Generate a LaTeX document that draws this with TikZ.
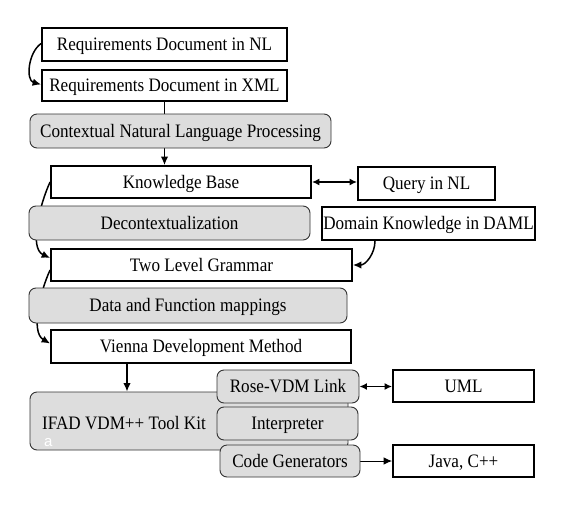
\documentclass[tikz,border=0pt]{standalone}
\usepackage{fontspec}
\setmainfont[FakeStretch=0.9]{Liberation Serif}
\newfontfamily\markfont{Liberation Sans}
\usetikzlibrary{arrows.meta}
\pgfdeclarelayer{paper}
\pgfdeclarelayer{wires}
\pgfsetlayers{paper,wires,main}
\definecolor{boxgray}{RGB}{221,221,221}
\begin{document}
\begin{tikzpicture}[x=1pt,y=-1pt,
  every node/.style={font=\fontsize{19}{22}\selectfont, inner sep=0pt, text height=12.6pt, text depth=0pt},
  wbox/.style={rectangle, draw=black, line width=1.8pt, fill=white},
  gbox/.style={rectangle, draw=black!80, line width=0.9pt, fill=boxgray, rounded corners=7pt},
  wire/.style={line width=1.5pt, black},
  tip/.style={-{Latex[length=8.5pt,width=7.5pt]}},
  twotip/.style={{Latex[length=7.5pt,width=7pt]}-{Latex[length=7.5pt,width=7pt]}}
]
\begin{pgfonlayer}{paper}
  \fill[white] (0,0) rectangle (561,508);
\end{pgfonlayer}
\useasboundingbox (0,0) rectangle (561,508);

% nodes
\node[wbox, minimum width=245pt, minimum height=33pt] (nl) at (164.5,44.5) {Requirements Document in NL};
\node[wbox, minimum width=245pt, minimum height=31pt] (xml) at (164.5,85.5) {Requirements Document in XML};
\node[gbox, minimum width=301pt, minimum height=34pt] (cnlp) at (180.5,131) {Contextual Natural Language Processing};
\node[wbox, minimum width=260pt, minimum height=32pt] (kb) at (181,182) {Knowledge Base};
\node[wbox, minimum width=137pt, minimum height=33pt] (query) at (426.5,183.5) {Query in NL};
\node[gbox, minimum width=281pt, minimum height=34pt] (decont) at (169.5,223) {Decontextualization};
\node[wbox, minimum width=213pt, minimum height=33pt] (domain) at (428.5,223.5) {Domain Knowledge in DAML};
\node[wbox, minimum width=301pt, minimum height=32pt] (tlg) at (201.5,265) {Two Level Grammar};
\node[gbox, minimum width=318pt, minimum height=35pt] (data) at (188,305.5) {Data and Function mappings};
\node[wbox, minimum width=300pt, minimum height=33pt] (vdm) at (201,346.5) {Vienna Development Method};
\node[gbox, minimum width=318pt, minimum height=58pt] (ifad) at (189,421) {};
\node[anchor=base west] (ifadtxt) at (42,429) {IFAD VDM++ Tool Kit};
\node[anchor=base west, text=white, text height=7.5pt, font=\markfont\fontsize{15}{17}\selectfont] (mark) at (44,446) {a};
\node[gbox, minimum width=142pt, minimum height=33pt] (rose) at (288,386.5) {Rose-VDM Link};
\node[gbox, minimum width=141pt, minimum height=33pt] (interp) at (287.5,423.5) {Interpreter};
\node[gbox, minimum width=140pt, minimum height=32pt] (codegen) at (290,461) {Code Generators};
\node[wbox, minimum width=141pt, minimum height=32pt] (uml) at (463.5,386) {UML};
\node[wbox, minimum width=141pt, minimum height=32pt] (java) at (463.5,461) {Java, C++};

% connectors
\begin{pgfonlayer}{wires}
  \draw[wire, tip] ([yshift=1pt]nl.west) to[out=215, in=165] ([yshift=1pt]xml.west);
  \draw[wire, line width=1.8pt] (xml.south) -- (xml.south |- cnlp.north);
  \draw[wire, tip] (cnlp.south -| xml.south) -- (kb.north -| xml.south);
  \draw[wire, tip] (kb.west) to[out=245, in=155, looseness=0.8] ([yshift=7pt]tlg.west);
  \draw[wire, twotip] (kb.east) -- (kb.east -| query.west);
  \draw[wire, tip] ([xshift=-53.5pt]domain.south) to[out=-90, in=0] (tlg.east);
  \draw[wire, tip] ([yshift=-5pt]tlg.west) to[out=245, in=150, looseness=0.8] ([yshift=3pt]vdm.west);
  \draw[wire, tip] ([xshift=-74pt]vdm.south) -- ([xshift=-74pt]vdm.south |- ifad.north);
  \draw[wire, twotip] (rose.east) -- (rose.east -| uml.west);
  \draw[wire, line width=1pt, tip] (codegen.east) -- (codegen.east -| java.west);
\end{pgfonlayer}
\end{tikzpicture}
\end{document}
